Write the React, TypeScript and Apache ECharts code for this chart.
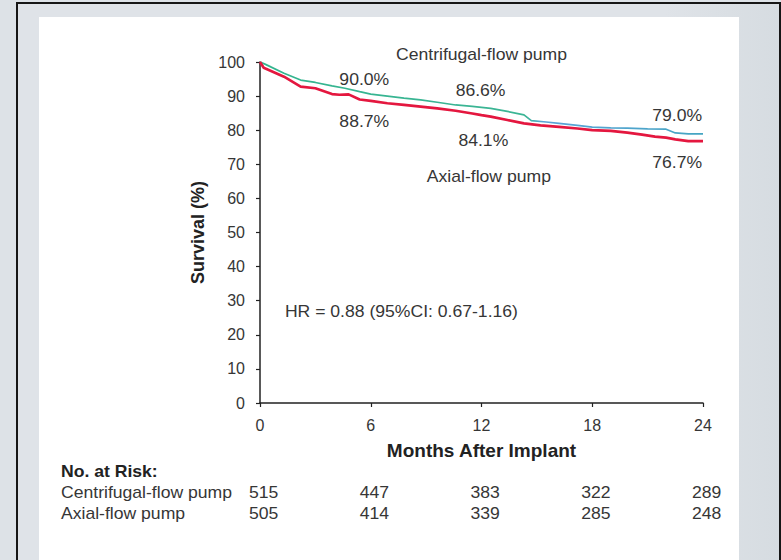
import React, { useEffect, useRef } from "react";
import * as echarts from "echarts";

const cfMonths = [0, 0.3, 1.3, 2.2, 3.0, 3.9, 4.6, 5.4, 6.0, 6.9, 7.8, 8.7, 9.6, 10.6, 11.5, 12.0, 12.5, 13.4, 14.3, 14.7, 15.5, 16.2, 17.2, 18.0, 19.0, 19.9, 21.0, 22.0, 22.5, 23.2, 24.0];
const cfSurvival = [100, 99.3, 96.7, 94.7, 94.0, 93.0, 92.3, 91.3, 90.6, 90.0, 89.4, 88.9, 88.2, 87.4, 87.0, 86.7, 86.4, 85.5, 84.5, 82.8, 82.4, 82.0, 81.4, 80.9, 80.7, 80.6, 80.4, 80.3, 79.2, 78.9, 78.9];
const axMonths = [0, 0.2, 1.3, 2.2, 3.0, 3.9, 4.3, 4.8, 5.4, 6.0, 6.9, 7.8, 8.7, 9.6, 10.6, 11.5, 12.0, 12.5, 13.4, 14.3, 15.2, 16.2, 17.2, 18.0, 19.0, 19.9, 20.7, 21.4, 22.0, 22.5, 23.2, 24.0];
const axSurvival = [100, 98.3, 95.7, 92.8, 92.3, 90.6, 90.4, 90.5, 89.0, 88.6, 87.9, 87.4, 86.9, 86.4, 85.7, 84.9, 84.4, 84.0, 83.0, 82.0, 81.4, 81.0, 80.5, 80.0, 79.8, 79.3, 78.7, 78.1, 77.8, 77.3, 76.8, 76.8];

const xTicks = [0, 6, 12, 18, 24];
const riskGroups = ["Centrifugal-flow pump", "Axial-flow pump"];
const riskCentrifugal = [515, 447, 383, 322, 289];
const riskAxial = [505, 414, 339, 285, 248];

// annotations: [month, survival, text]
const annotations: [number, number, string][] = [
  [12.0, 102.0, "Centrifugal-flow pump"],
  [5.65, 94.7, "90.0%"],
  [11.95, 91.5, "86.6%"],
  [22.6, 84.2, "79.0%"],
  [5.65, 82.6, "88.7%"],
  [12.1, 76.9, "84.1%"],
  [22.6, 70.4, "76.7%"],
  [12.4, 66.2, "Axial-flow pump"],
];
const hrText = "HR = 0.88 (95%CI: 0.67-1.16)";

const FONT = "'Liberation Sans', Arial, sans-serif";
const TXT = "#363636";
const SX = 1.1;

export default function App() {
  const ref = useRef<HTMLDivElement>(null);
  useEffect(() => {
    if (!ref.current) return;
    const chart = echarts.init(ref.current, undefined, { renderer: "svg" });
    chart.setOption({
      animation: false,
      textStyle: { fontFamily: FONT },
      grid: { left: 260, right: 78, top: 62, bottom: 157 },
      xAxis: {
        type: "value",
        min: 0,
        max: 24,
        interval: 6,
        name: "Months After Implant",
        nameLocation: "middle",
        nameGap: 38,
        nameTextStyle: { fontFamily: FONT, fontSize: 19, fontWeight: "bold", color: "#222" },
        axisLine: { lineStyle: { color: "#222", width: 1.5 } },
        axisTick: { length: 4, lineStyle: { color: "#222", width: 1.2 } },
        axisLabel: { fontFamily: FONT, fontSize: 16, color: TXT, margin: 14 },
        splitLine: { show: false },
      },
      yAxis: {
        type: "value",
        min: 0,
        max: 100,
        interval: 10,
        name: "Survival (%)",
        nameLocation: "middle",
        nameGap: 52,
        nameTextStyle: { fontFamily: FONT, fontSize: 18, fontWeight: "bold", color: "#222" },
        axisLine: { show: true, lineStyle: { color: "#222", width: 1.5 } },
        axisTick: { show: true, length: 4, lineStyle: { color: "#222", width: 1.2 } },
        axisLabel: { fontFamily: FONT, fontSize: 16, color: TXT, margin: 15 },
        splitLine: { show: false },
      },
      series: [
        {
          name: "Centrifugal-flow pump",
          type: "line",
          data: cfMonths.map((m, i) => [m, cfSurvival[i]]),
          showSymbol: false,
          z: 2,
          lineStyle: {
            width: 1.7,
            color: {
              type: "linear",
              x: 0,
              y: 0,
              x2: 1,
              y2: 0,
              colorStops: [
                { offset: 0, color: "#33b48e" },
                { offset: 0.6, color: "#3cb595" },
                { offset: 0.64, color: "#5aa3d8" },
                { offset: 1, color: "#45a5c2" },
              ],
            },
          },
        },
        {
          name: "Axial-flow pump",
          type: "line",
          data: axMonths.map((m, i) => [m, axSurvival[i]]),
          showSymbol: false,
          z: 3,
          lineStyle: { width: 2.7, color: "#e4173f" },
        },
      ],
    });

    const px = (m: number, v: number) => chart.convertToPixel({ gridIndex: 0 }, [m, v]) as number[];
    const txt = (x: number, y: number, text: string, align: string, bold = false) => ({
      type: "text",
      x,
      y,
      scaleX: SX,
      style: {
        text,
        fontFamily: FONT,
        fontSize: 16,
        fontWeight: bold ? "bold" : "normal",
        fill: bold ? "#222" : TXT,
        align,
        verticalAlign: "middle",
      },
    });
    const graphics: any[] = [];
    annotations.forEach(([m, v, t]) => {
      const [x, y] = px(m, v);
      graphics.push(txt(x, y, t, "center"));
    });
    {
      const [x, y] = px(1.35, 26.9);
      graphics.push(txt(x, y, hrText, "left"));
    }
    const [, yHead] = px(0, -20.2);
    graphics.push(txt(61, yHead, "No. at Risk:", "left", true));
    const rows = [riskCentrifugal, riskAxial];
    rows.forEach((row, r) => {
      const [, yRow] = px(0, -26.4 - r * 6.0);
      graphics.push(txt(61, yRow, riskGroups[r], "left"));
      row.forEach((n, i) => {
        const [x] = px(xTicks[i] + 0.2, 0);
        graphics.push(txt(x, yRow, String(n), "center"));
      });
    });
    chart.setOption({ graphic: graphics });

    return () => chart.dispose();
  }, []);

  return (
    <div style={{ position: "fixed", left: 0, top: 0, width: 781, height: 560, background: "#dde2e7", overflow: "hidden" }}>
      <div
        style={{
          position: "absolute",
          left: 16,
          top: 2,
          width: 761,
          height: 600,
          borderLeft: "2px solid #161616",
          borderTop: "2px solid #161616",
          borderRight: "2px solid #161616",
          background: "linear-gradient(to right, #dfe3e8 0%, #dfe3e8 85%, #d6dce1 100%)",
        }}
      />
      <div style={{ position: "absolute", left: 39, top: 17, width: 700, height: 543, background: "#ffffff" }} />
      <div ref={ref} style={{ position: "absolute", left: 0, top: 0, width: 781, height: 560 }} />
    </div>
  );
}
